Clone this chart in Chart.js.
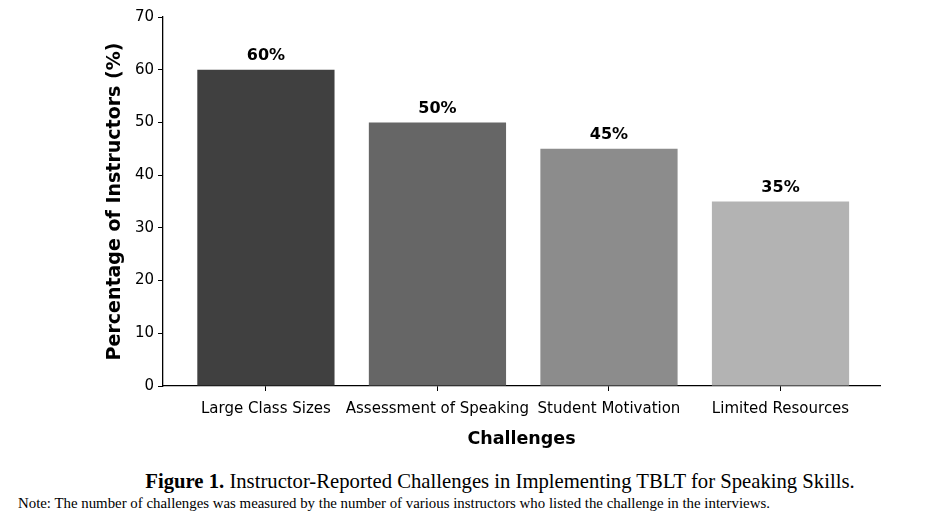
<!DOCTYPE html>
<html>
<head>
<meta charset="utf-8">
<script src="https://cdn.jsdelivr.net/npm/chart.js@4"></script>
<style>
  body { margin: 0; background: #fff; width: 930px; height: 520px; overflow: hidden; }
  #wrap { position: absolute; left: 0; top: 0; width: 930px; height: 454px; }
  .caption { position: absolute; top: 468px; left: 0; width: 1000px; text-align: center;
             font-family: "Liberation Serif", serif; font-size: 22px; color: #000;
             transform: scaleX(0.94); transform-origin: 500px 0; }
  .note { position: absolute; top: 495px; left: 18px; white-space: nowrap;
          font-family: "Liberation Serif", serif; font-size: 15px; color: #000;
          transform: scaleX(0.99); transform-origin: 0 0; }
</style>
</head>
<body>
<div id="wrap"><canvas id="chart" width="930" height="454"></canvas></div>
<div class="caption"><b>Figure 1.</b> Instructor-Reported Challenges in Implementing TBLT for Speaking Skills.</div>
<div class="note">Note: The number of challenges was measured by the number of various instructors who listed the challenge in the interviews.</div>
<script>
const categories = ['Large Class Sizes', 'Assessment of Speaking', 'Student Motivation', 'Limited Resources'];
const percentages = [60, 50, 45, 35];
const barColors = ['#404040', '#666666', '#8c8c8c', '#b3b3b3'];
const yTicks = [0, 10, 20, 30, 40, 50, 60, 70];

// draw "60%" etc above each bar
const valueLabels = {
    id: 'valueLabels',
    afterDatasetsDraw(chart) {
        const ctx = chart.ctx;
        const meta = chart.getDatasetMeta(0);
        ctx.save();
        ctx.font = 'bold 16px "DejaVu Sans"';
        ctx.fillStyle = '#000';
        ctx.textAlign = 'center';
        ctx.textBaseline = 'bottom';
        meta.data.forEach((bar, i) => {
            ctx.fillText(percentages[i] + '%', bar.x, bar.y - 6);
        });
        ctx.restore();
    }
};

new Chart(document.getElementById('chart').getContext('2d'), {
    type: 'bar',
    data: {
        datasets: [{
            data: percentages.map((v, i) => ({ x: i, y: v })),
            backgroundColor: barColors,
            borderWidth: 0,
            categoryPercentage: 1,
            barPercentage: 0.8
        }]
    },
    options: {
        responsive: false,
        animation: false,
        layout: { padding: { left: 100, right: 50, top: 17, bottom: 0 } },
        plugins: { legend: { display: false }, tooltip: { enabled: false } },
        scales: {
            x: {
                type: 'linear',
                offset: false,
                min: -0.6,
                max: 3.58,
                afterBuildTicks: s => { s.ticks = categories.map((c, i) => ({ value: i })); },
                afterFit: s => { s.height = 68; },
                ticks: {
                    callback: v => categories[v],
                    color: '#000',
                    padding: 9,
                    maxRotation: 0,
                    autoSkip: false,
                    font: { family: 'DejaVu Sans', size: 15 }
                },
                grid: { drawOnChartArea: false, offset: false, color: '#000', tickLength: 5 },
                border: { color: '#000', width: 1.3 },
                title: {
                    display: true,
                    text: 'Challenges',
                    color: '#000',
                    padding: { top: 4, bottom: 4 },
                    font: { family: 'DejaVu Sans', size: 17.5, weight: 'bold' }
                }
            },
            y: {
                min: 0,
                max: 70,
                afterBuildTicks: s => { s.ticks = yTicks.map(v => ({ value: v })); },
                afterFit: s => { s.width = 63; },
                ticks: {
                    color: '#000',
                    padding: 4,
                    font: { family: 'DejaVu Sans', size: 15 }
                },
                grid: { drawOnChartArea: false, color: '#000', tickLength: 5 },
                border: { color: '#000', width: 1.3 },
                title: {
                    display: true,
                    text: 'Percentage of Instructors (%)',
                    color: '#000',
                    padding: { top: 4, bottom: 4 },
                    font: { family: 'DejaVu Sans', size: 19, weight: 'bold' }
                }
            }
        }
    },
    plugins: [valueLabels]
});
</script>
</body>
</html>
